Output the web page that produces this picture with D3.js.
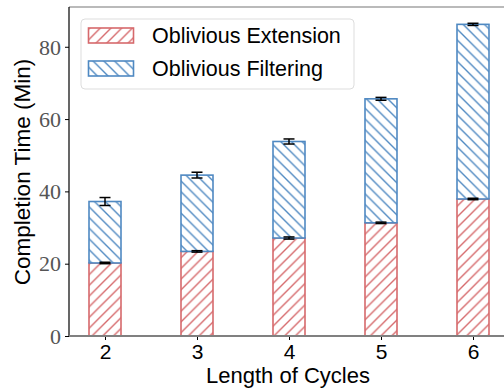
<!DOCTYPE html>
<html><head><meta charset="utf-8">
<script src="https://cdn.jsdelivr.net/npm/d3@7"></script>
<style>body{margin:0;background:#fff}</style>
</head><body>
<svg id="c" width="504" height="389"></svg>
<script>
const categories = [2, 3, 4, 5, 6];
const extension = [20.2, 23.4, 27.1, 31.3, 37.9];
const filtering = [17.0, 21.1, 26.7, 34.3, 48.3];
const extensionErr = [0.2, 0.2, 0.3, 0.2, 0.2];
const totalErr = [1.1, 0.8, 0.7, 0.4, 0.3];
const yTicks = [0, 20, 40, 60, 80];
const seriesNames = ["Oblivious Extension", "Oblivious Filtering"];

(function () {
const svg = d3.select("#c");
const red = "#d6696c", blue = "#4f89c2";
const mLeft = 69, mTop = 7, mBottom = 336;
const x = d3.scaleLinear().domain([2, 6]).range([105, 473]);
const y = d3.scaleLinear().domain([0, 91]).range([mBottom, mTop]);
const bw = 32;
const sans = "'Liberation Sans', Arial, sans-serif";

const defs = svg.append("defs");
function hatch(id, color, dir) {
  const s = 10.7;
  const p = defs.append("pattern").attr("id", id).attr("patternUnits", "userSpaceOnUse")
    .attr("width", s).attr("height", s);
  p.append("rect").attr("width", s).attr("height", s).attr("fill", "#fff");
  const segs = dir > 0
    ? [[0, s, s, 0], [-s/2, s/2, s/2, -s/2], [s/2, s*1.5, s*1.5, s/2]]
    : [[0, 0, s, s], [-s/2, s/2, s/2, s*1.5], [s/2, -s/2, s*1.5, s/2]];
  segs.forEach(a => p.append("line").attr("x1", a[0]).attr("y1", a[1]).attr("x2", a[2]).attr("y2", a[3])
    .attr("stroke", color).attr("stroke-width", 1.4));
}
hatch("hr", red, 1);
hatch("hb", blue, -1);

const g = svg.append("g");
categories.forEach((c, i) => {
  const cx = x(c);
  g.append("rect").attr("x", cx - bw/2).attr("y", y(extension[i])).attr("width", bw)
    .attr("height", y(0) - y(extension[i])).attr("fill", "url(#hr)").attr("stroke", red).attr("stroke-width", 1.6);
  const tot = extension[i] + filtering[i];
  g.append("rect").attr("x", cx - bw/2).attr("y", y(tot)).attr("width", bw)
    .attr("height", y(extension[i]) - y(tot)).attr("fill", "url(#hb)").attr("stroke", blue).attr("stroke-width", 1.6);
});
function err(cx, v, e) {
  const cw = 5.5;
  g.append("line").attr("x1", cx).attr("x2", cx).attr("y1", y(v - e)).attr("y2", y(v + e)).attr("stroke", "#000").attr("stroke-width", 1.5);
  [v - e, v + e].forEach(t => g.append("line").attr("x1", cx - cw).attr("x2", cx + cw).attr("y1", y(t)).attr("y2", y(t)).attr("stroke", "#000").attr("stroke-width", 1.5));
}
categories.forEach((c, i) => {
  err(x(c), extension[i], extensionErr[i]);
  err(x(c), extension[i] + filtering[i], totalErr[i]);
});

svg.append("line").attr("x1", mLeft).attr("x2", 504).attr("y1", mTop).attr("y2", mTop).attr("stroke", "#777").attr("stroke-width", 1.2);
svg.append("line").attr("x1", mLeft).attr("x2", mLeft).attr("y1", mTop).attr("y2", mBottom).attr("stroke", "#000").attr("stroke-width", 1.2);

const ya = svg.append("g").attr("transform", `translate(${mLeft},0)`)
  .call(d3.axisLeft(y).tickValues(yTicks).tickSize(4).tickPadding(4).tickFormat(d3.format("d")));
ya.select(".domain").remove();
ya.selectAll(".tick line").attr("stroke", "#000");
ya.selectAll("text").attr("font-family", "'Liberation Serif', serif").attr("font-size", 22).attr("fill", "#555").attr("dy", "0.33em");

const xa = svg.append("g").attr("transform", `translate(0,${mBottom})`)
  .call(d3.axisBottom(x).tickValues(categories).tickSize(4).tickPadding(4).tickFormat(d3.format("d")));
xa.select(".domain").remove();
xa.selectAll(".tick line").attr("stroke", "#000");
xa.selectAll("text").attr("font-family", sans).attr("font-size", 21).attr("fill", "#000");
svg.append("line").attr("x1", mLeft).attr("x2", 504).attr("y1", mBottom).attr("y2", mBottom).attr("stroke", "#808080").attr("stroke-width", 2);

svg.append("text").attr("x", 288).attr("y", 383).attr("text-anchor", "middle")
  .attr("font-family", sans).attr("font-size", 22).text("Length of Cycles");
svg.append("text").attr("transform", "translate(30,172) rotate(-90)").attr("text-anchor", "middle")
  .attr("font-family", sans).attr("font-size", 22.5).text("Completion Time (Min)");

const lg = svg.append("g");
lg.append("rect").attr("x", 81).attr("y", 19).attr("width", 273).attr("height", 70).attr("rx", 4)
  .attr("fill", "#fff").attr("fill-opacity", 0.8).attr("stroke", "#ddd").attr("stroke-width", 1);
[["url(#hr)", red], ["url(#hb)", blue]].forEach((d, i) => {
  const yy = 28 + i * 33;
  lg.append("rect").attr("x", 88.5).attr("y", yy).attr("width", 45).attr("height", 15)
    .attr("fill", d[0]).attr("stroke", d[1]).attr("stroke-width", 1.6);
  lg.append("text").attr("x", 152).attr("y", yy + 15).attr("font-family", sans)
    .attr("font-size", 21.5).text(seriesNames[i]);
});
})();
</script>
</body></html>
